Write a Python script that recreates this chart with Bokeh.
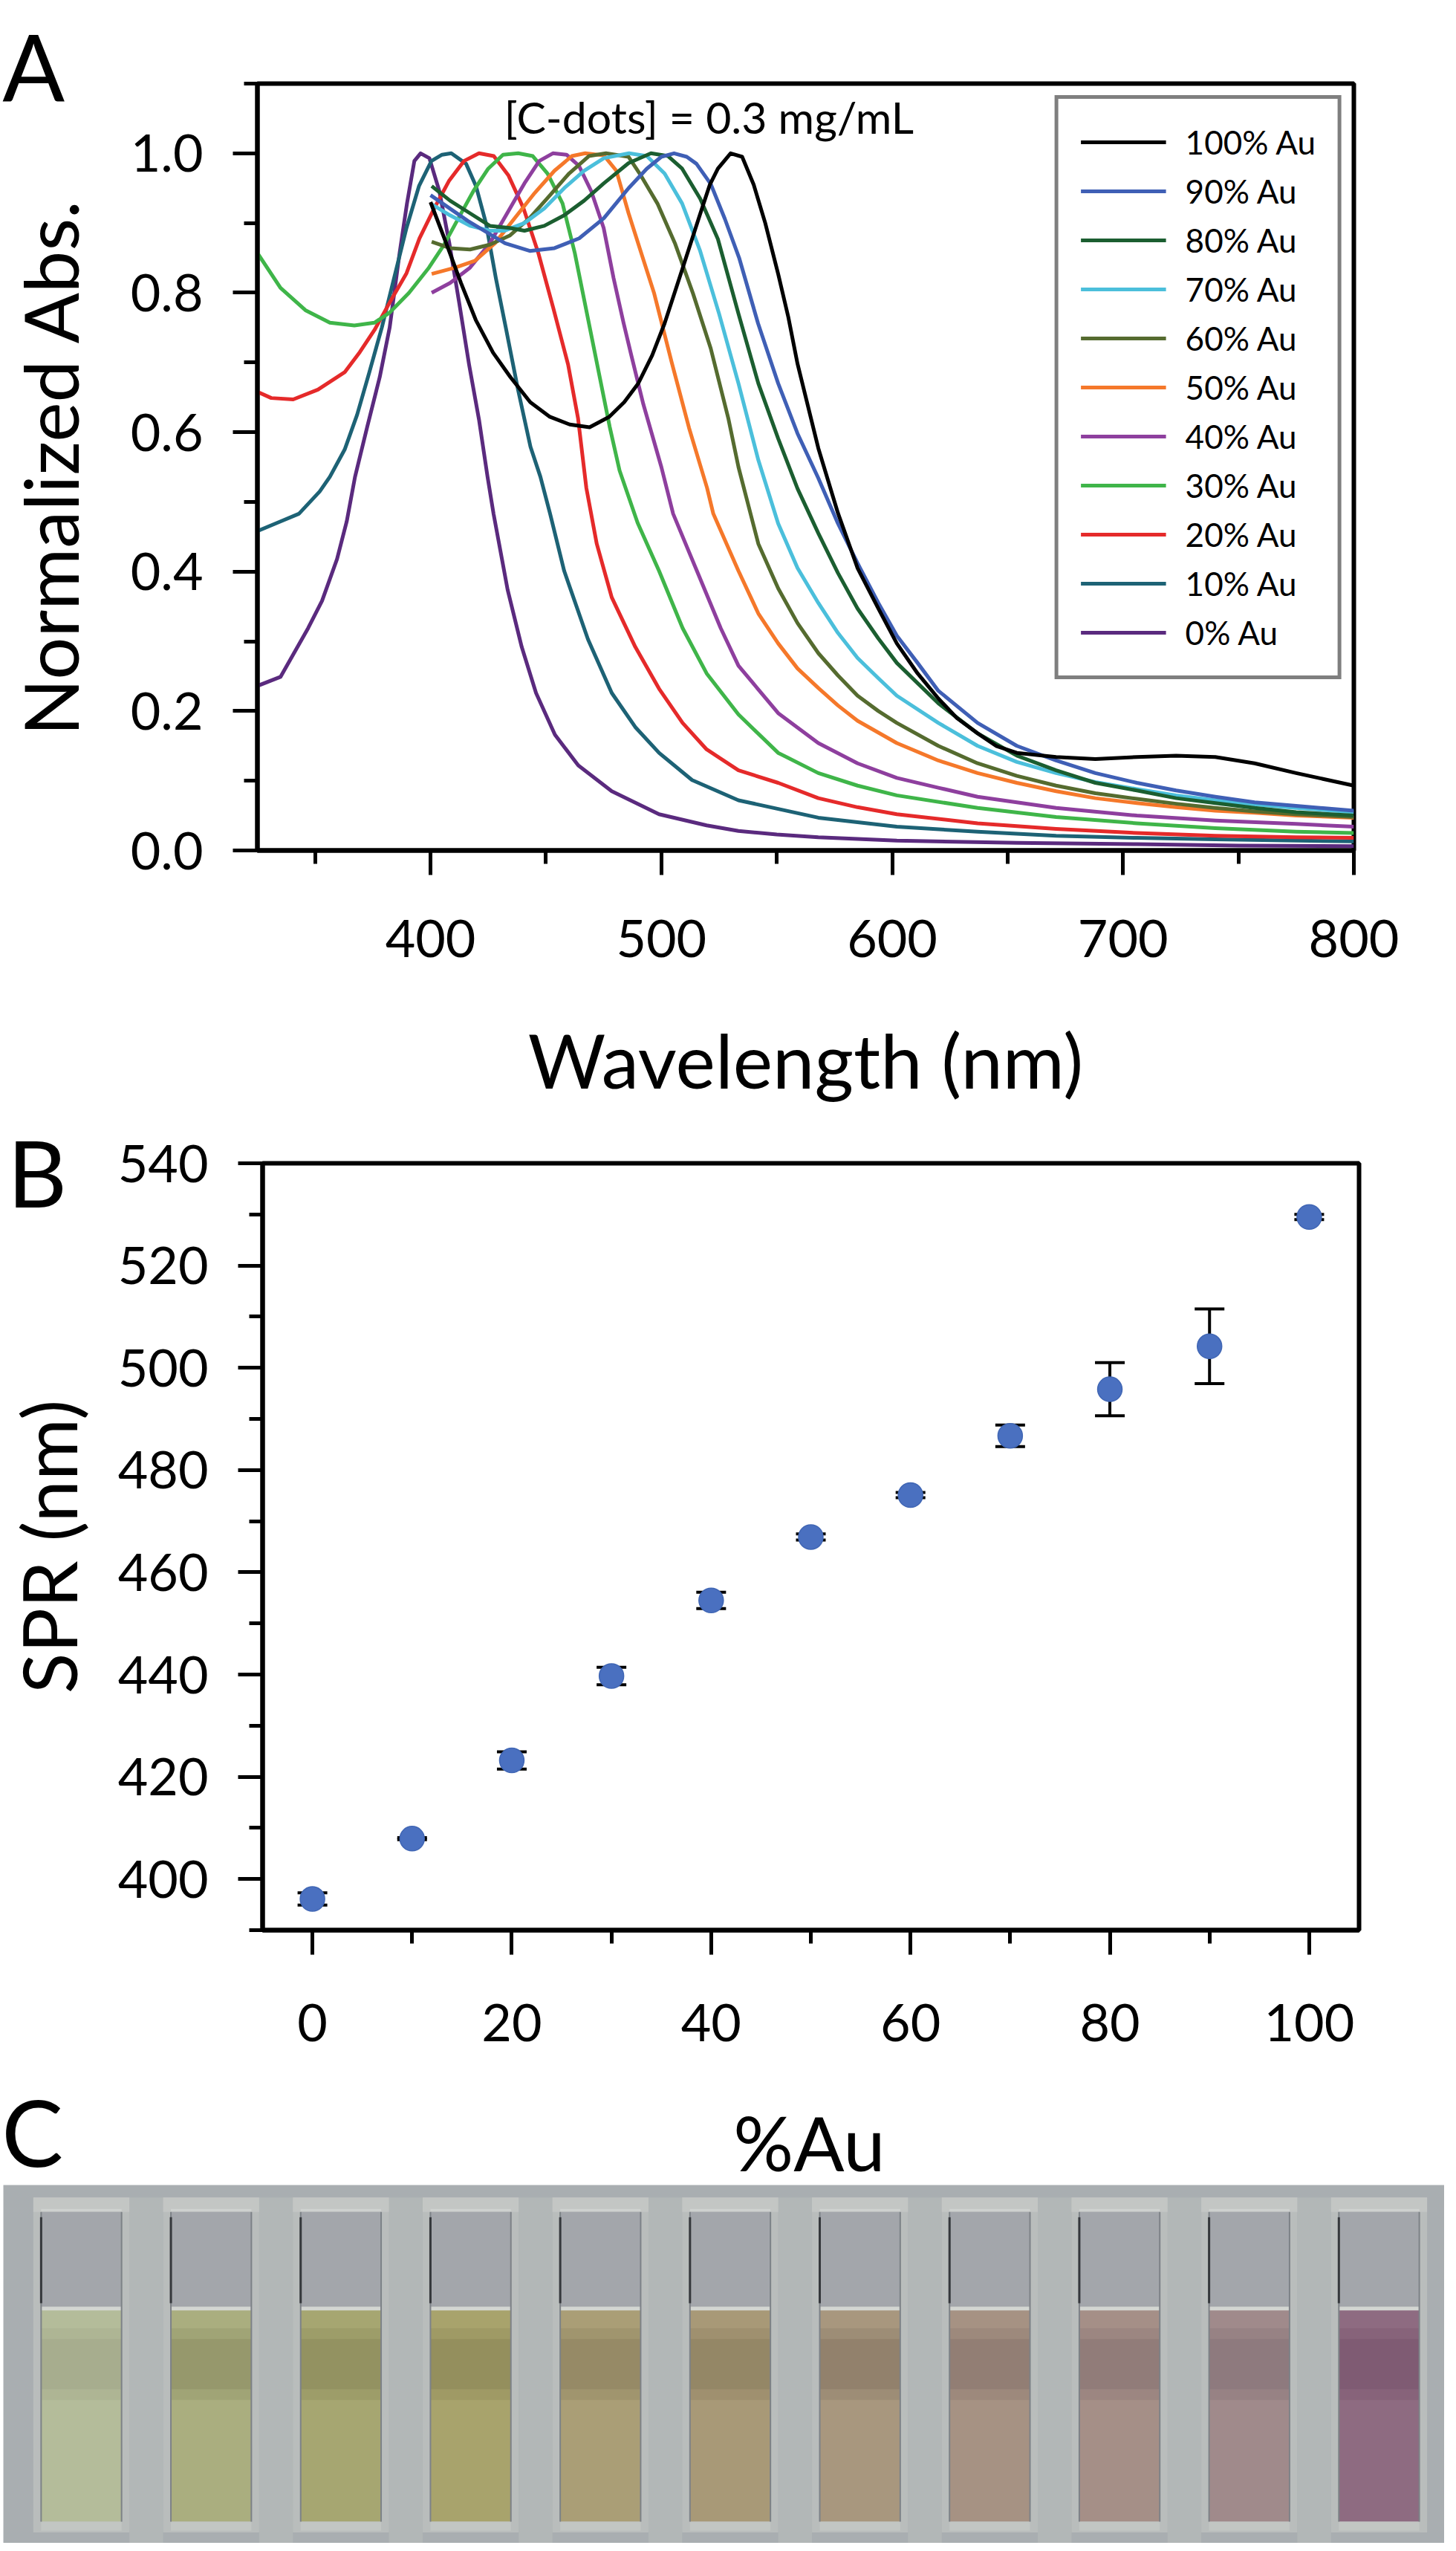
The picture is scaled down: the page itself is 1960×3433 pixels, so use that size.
from bokeh.plotting import figure
from bokeh.models import (Range1d, FixedTicker, PrintfTickFormatter, Legend,
                          LegendItem, Label, ColumnDataSource)
from bokeh.layouts import column
from bokeh.embed import file_html
from bokeh.resources import INLINE
from bokeh.core.properties import value

FONT = "Lato"

# ---------------- Panel A: normalized absorbance spectra (wavelength nm, normalized abs.)
au100 = [(400, 0.93), (406.8, 0.871), (413.2, 0.814), (419.6, 0.761), (427.1, 0.714), (434.6, 0.679),
         (443.2, 0.643), (451.7, 0.622), (460.3, 0.611), (468.9, 0.607), (477.4, 0.622), (483.9, 0.643),
         (490, 0.67), (496, 0.71), (501.4, 0.756), (509.1, 0.834), (516.8, 0.913), (521, 0.955),
         (524.5, 0.978), (530, 1.0), (535, 0.995), (540, 0.955), (545, 0.9), (550.6, 0.827),
         (555, 0.765), (559, 0.698), (568, 0.577), (576.5, 0.484), (585, 0.405), (594, 0.347),
         (602, 0.297), (611, 0.254), (620, 0.218), (628, 0.19), (637, 0.168), (645, 0.15),
         (654, 0.14), (671, 0.134), (688, 0.131), (706, 0.134), (723, 0.136), (740, 0.134),
         (757, 0.125), (775, 0.111), (800, 0.093)]
au90 = [(400, 0.94), (416.2, 0.903), (432.3, 0.871), (443, 0.86), (453.7, 0.864), (464.4, 0.878),
        (475.1, 0.907), (485.8, 0.95), (493.7, 0.978), (500, 0.995), (505.5, 1.0), (511, 0.995),
        (515.2, 0.985), (521.4, 0.956), (527.5, 0.906), (533.7, 0.85), (541.9, 0.756), (550.6, 0.67),
        (559, 0.598), (568, 0.534), (576.5, 0.469), (585, 0.412), (594, 0.355), (602, 0.308),
        (611, 0.269), (620, 0.229), (637, 0.183), (654, 0.15), (671, 0.129), (688, 0.111),
        (706, 0.097), (723, 0.086), (740, 0.077), (757, 0.069), (775, 0.064), (800, 0.057)]
au80 = [(400.5, 0.953), (408.5, 0.932), (417.1, 0.914), (425.7, 0.896), (434.3, 0.893), (440.7, 0.889),
        (449.3, 0.896), (457.9, 0.911), (466.5, 0.932), (475.1, 0.957), (485.8, 0.986), (495.5, 1.0),
        (502.9, 0.996), (509, 0.978), (516.8, 0.935), (524.5, 0.877), (533.4, 0.77), (542, 0.67),
        (550.6, 0.591), (559, 0.519), (568, 0.455), (576.5, 0.398), (585, 0.347), (594, 0.304),
        (602, 0.269), (611, 0.24), (620, 0.211), (637, 0.168), (654, 0.136), (671, 0.115),
        (688, 0.097), (706, 0.086), (723, 0.075), (740, 0.068), (757, 0.061), (775, 0.055), (800, 0.05)]
au70 = [(400.5, 0.927), (408.5, 0.911), (417.1, 0.896), (425.7, 0.889), (432.1, 0.889), (440.7, 0.9),
        (449.3, 0.921), (457.9, 0.95), (466.5, 0.975), (475.1, 0.993), (486, 1.0), (493.7, 0.996),
        (501.4, 0.971), (509, 0.928), (516.8, 0.86), (525, 0.77), (533.4, 0.67), (542, 0.56),
        (550.6, 0.469), (559, 0.405), (568, 0.355), (576.5, 0.312), (585, 0.276), (594, 0.247),
        (602, 0.222), (620, 0.183), (637, 0.15), (654, 0.127), (671, 0.111), (688, 0.098),
        (706, 0.088), (723, 0.079), (740, 0.072), (757, 0.066), (775, 0.061), (800, 0.055)]
au60 = [(400.5, 0.873), (408.5, 0.864), (417.1, 0.862), (425.7, 0.869), (434.3, 0.882), (442.9, 0.907),
        (451.5, 0.939), (460, 0.971), (468.6, 0.996), (476, 1.0), (485.8, 0.995), (490.6, 0.971),
        (498.3, 0.928), (506, 0.87), (513.7, 0.799), (521.4, 0.72), (529, 0.62), (533.4, 0.55),
        (542, 0.44), (550.6, 0.376), (559, 0.326), (568, 0.283), (576.5, 0.251), (585, 0.222),
        (594, 0.2), (602, 0.183), (620, 0.15), (637, 0.125), (654, 0.107), (671, 0.093),
        (688, 0.082), (706, 0.074), (723, 0.067), (740, 0.061), (757, 0.056), (775, 0.052), (800, 0.048)]
au50 = [(400.5, 0.827), (410.7, 0.836), (419.3, 0.846), (427.9, 0.871), (436.5, 0.907), (445.1, 0.943),
        (453.7, 0.975), (461.2, 0.996), (467, 1.0), (475.1, 0.997), (480.5, 0.975), (485.8, 0.914),
        (491, 0.86), (496.8, 0.8), (504.5, 0.7), (512, 0.606), (519.8, 0.52), (522.5, 0.483),
        (533.4, 0.401), (542, 0.34), (550.6, 0.297), (559, 0.261), (568, 0.233), (576.5, 0.208),
        (585, 0.186), (602, 0.154), (620, 0.129), (637, 0.111), (654, 0.097), (671, 0.085),
        (688, 0.075), (706, 0.068), (723, 0.062), (740, 0.057), (757, 0.054), (775, 0.05), (800, 0.047)]
au40 = [(400.5, 0.8), (408.5, 0.814), (417.1, 0.836), (425.7, 0.871), (433.2, 0.914), (440.7, 0.957),
        (447.1, 0.989), (453, 1.0), (458.9, 0.998), (464.3, 0.982), (469.6, 0.946), (475, 0.893),
        (479.3, 0.821), (483.6, 0.757), (487, 0.71), (492.2, 0.64), (500, 0.55), (505.1, 0.483),
        (515.4, 0.401), (525.7, 0.319), (533.4, 0.265), (550.6, 0.197), (568, 0.154), (585, 0.125),
        (602, 0.104), (620, 0.09), (637, 0.077), (671, 0.061), (706, 0.05), (740, 0.043),
        (775, 0.038), (800, 0.034)]
au30 = [(325, 0.857), (335, 0.807), (345.8, 0.775), (356.4, 0.757), (367, 0.753), (375.7, 0.757),
        (382.1, 0.771), (390.7, 0.8), (399.3, 0.836), (405.7, 0.868), (412.1, 0.907), (418.6, 0.946),
        (425, 0.978), (431.4, 0.998), (438, 1.0), (444.3, 0.996), (450.7, 0.971), (457.2, 0.928),
        (462.5, 0.857), (467.9, 0.768), (473.3, 0.679), (477.6, 0.608), (481.9, 0.545), (489.7, 0.47),
        (499, 0.401), (509.2, 0.319), (519.6, 0.254), (533.4, 0.195), (550.6, 0.14), (568, 0.111),
        (585, 0.093), (602, 0.079), (637, 0.061), (671, 0.048), (706, 0.039), (740, 0.032),
        (775, 0.027), (800, 0.025)]
au20 = [(325, 0.658), (331, 0.649), (340.5, 0.647), (351.2, 0.661), (362.8, 0.686), (369.4, 0.715),
        (375.8, 0.747), (382.3, 0.786), (389.6, 0.828), (395.2, 0.878), (401.6, 0.921), (408.1, 0.961),
        (414.5, 0.989), (421, 1.0), (427.4, 0.996), (433.8, 0.968), (440.3, 0.921), (446.7, 0.857),
        (453.1, 0.779), (459.6, 0.697), (463.9, 0.62), (467.5, 0.52), (472, 0.44), (478.5, 0.363),
        (488.7, 0.292), (499, 0.232), (509.2, 0.183), (519.6, 0.145), (533.4, 0.115), (550.6, 0.097),
        (568, 0.075), (585, 0.062), (602, 0.052), (637, 0.039), (671, 0.031), (706, 0.025),
        (740, 0.021), (775, 0.019), (800, 0.018)]
au10 = [(325, 0.458), (335, 0.472), (343, 0.483), (352, 0.515), (356.4, 0.536), (362.8, 0.575),
        (368.2, 0.625), (373.5, 0.686), (378.9, 0.75), (384.2, 0.821), (389.6, 0.893), (395, 0.953),
        (400.4, 0.989), (405, 0.998), (409, 1.0), (415.4, 0.985), (419.7, 0.953), (424, 0.9),
        (428.3, 0.821), (432.6, 0.75), (437.9, 0.661), (443.3, 0.579), (447.6, 0.536), (451.8, 0.483),
        (457.9, 0.401), (468.2, 0.303), (478.5, 0.226), (488.7, 0.177), (499, 0.14), (513.3, 0.101),
        (533.4, 0.072), (568, 0.047), (602, 0.034), (637, 0.027), (671, 0.021), (706, 0.018),
        (740, 0.016), (800, 0.013)]
au0 = [(325, 0.236), (335, 0.249), (347, 0.319), (353, 0.358), (359.5, 0.418), (363.7, 0.472),
       (367.3, 0.536), (372.6, 0.608), (378, 0.679), (382.3, 0.75), (386.6, 0.857), (389.8, 0.928),
       (393, 0.989), (395.7, 1.0), (399.5, 0.993), (403.8, 0.946), (408.1, 0.872), (412.4, 0.786),
       (416.7, 0.697), (421, 0.618), (424.7, 0.536), (427.3, 0.483), (433.4, 0.374), (439.5, 0.292),
       (445.7, 0.226), (453.9, 0.166), (464, 0.122), (478.5, 0.085), (499, 0.052), (519.6, 0.036),
       (533.4, 0.028), (550, 0.023), (568, 0.019), (602, 0.014), (654, 0.011), (706, 0.009),
       (750, 0.007), (800, 0.006)]

spectra = [au100, au90, au80, au70, au60, au50, au40, au30, au20, au10, au0]
spectra_labels = ["100% Au", "90% Au", "80% Au", "70% Au", "60% Au", "50% Au",
                  "40% Au", "30% Au", "20% Au", "10% Au", "0% Au"]
spectra_colors = ["#000000", "#3f5fb5", "#1b5e30", "#4bbfdb", "#556b2f", "#f5782a",
                  "#8e3f9e", "#3fb549", "#e52a2a", "#1d6275", "#5a2a7e"]

wl_ticks = [400, 500, 600, 700, 800]
wl_minor = [350, 450, 550, 650, 750]
abs_ticks = [0.0, 0.2, 0.4, 0.6, 0.8, 1.0]
abs_minor = [0.1, 0.3, 0.5, 0.7, 0.9, 1.1]

# ---------------- Panel B: SPR position vs. %Au
au_pct = [0, 10, 20, 30, 40, 50, 60, 70, 80, 90, 100]
spr_nm = [396.1, 407.9, 423.2, 439.7, 454.5, 466.9, 475.1, 486.7, 495.8, 504.2, 529.5]
spr_err = [1.2, 0.2, 1.7, 1.7, 1.6, 0.6, 0.5, 2.1, 5.2, 7.3, 0.5]
pct_ticks = [0, 20, 40, 60, 80, 100]
pct_minor = [10, 30, 50, 70, 90]
spr_ticks = [400, 420, 440, 460, 480, 500, 520, 540]
spr_minor = [390, 410, 430, 450, 470, 490, 510, 530]

# ---------------- Panel C: photo of the cuvettes (one per %Au)
cuvette_pct = au_pct
liquid_colors = ["#b4bc9a", "#aaae7f", "#a6a671", "#a8a36c", "#aa9e76", "#a89977",
                 "#a8977e", "#a69283", "#a58f87", "#a08a8b", "#8e6b81"]
band_colors = ["#a2a88a", "#8f9166", "#8c8b5b", "#8e8958", "#8f8360", "#8e8260",
               "#8a7a66", "#8b7770", "#8b7675", "#887479", "#7a566e"]


def no_align(p):
    if "frame_align" in p.properties():
        p.frame_align = False


def style_axes(p):
    p.outline_line_color = "black"
    p.outline_line_width = 6
    p.grid.visible = False
    p.background_fill_color = "white"
    p.border_fill_color = "white"
    for ax in p.axis:
        ax.axis_line_width = 6
        ax.axis_line_color = "black"
        ax.major_tick_line_width = 5
        ax.minor_tick_line_width = 5
        ax.major_tick_line_color = "black"
        ax.minor_tick_line_color = "black"
        ax.major_tick_in = 0
        ax.major_tick_out = 33
        ax.minor_tick_in = 0
        ax.minor_tick_out = 18
        ax.major_label_text_font = FONT
        ax.major_label_text_font_size = "70px"
        ax.major_label_text_color = "black"
        ax.axis_label_text_font = FONT
        ax.axis_label_text_font_size = "101px"
        ax.axis_label_text_font_style = "normal"
        ax.axis_label_text_color = "black"


# ================= Figure A
pA = figure(frame_width=1476, frame_height=1032,
            min_border_left=346, min_border_right=122, min_border_top=112, min_border_bottom=340,
            x_range=Range1d(325, 800), y_range=Range1d(0, 1.1),
            output_backend="svg", toolbar_location=None)
no_align(pA)
style_axes(pA)
pA.xaxis.ticker = FixedTicker(ticks=wl_ticks, minor_ticks=wl_minor)
pA.yaxis.ticker = FixedTicker(ticks=abs_ticks, minor_ticks=abs_minor)
pA.yaxis.formatter = PrintfTickFormatter(format="%.1f")
pA.xaxis.axis_label = "Wavelength (nm)"
pA.yaxis.axis_label = "Normalized Abs."
pA.xaxis.major_label_standoff = 60
pA.yaxis.major_label_standoff = 40
pA.xaxis.axis_label_standoff = 74
pA.yaxis.axis_label_standoff = 45

renderers = {}
for pts, lab, col in reversed(list(zip(spectra, spectra_labels, spectra_colors))):
    xs = [a for a, b in pts]
    ys = [b for a, b in pts]
    renderers[lab] = pA.line(xs, ys, line_width=5, line_color=col, line_join="round")

legend = Legend(items=[LegendItem(label=lab, renderers=[renderers[lab]]) for lab in spectra_labels],
                location="top_right")
legend.margin = 16
legend.padding = 30
legend.spacing = 10
legend.glyph_width = 115
legend.glyph_height = 56
legend.label_height = 56
legend.label_standoff = 26
legend.label_text_font = FONT
legend.label_text_font_size = "44px"
legend.label_text_color = "black"
legend.border_line_color = "black"
legend.border_line_width = 5
legend.background_fill_color = "white"
legend.background_fill_alpha = 1.0
pA.add_layout(legend)

pA.add_layout(Label(x=520.66, y=1.052, text="[C-dots] = 0.3 mg/mL", text_align="center",
                    text_baseline="alphabetic", text_font=FONT, text_font_size="59px",
                    text_color="black"))
# panel letter A (side panel, so it is not clipped to the frame)
pA.add_layout(Label(x=214.5, y=1.1256, text="A", text_align="left", text_baseline="alphabetic",
                    text_font=FONT, text_font_size="124px", text_color="black"), "right")

# ================= Figure B
pB = figure(frame_width=1476, frame_height=1032,
            min_border_left=352, min_border_right=116, min_border_top=76, min_border_bottom=175,
            x_range=Range1d(-5, 105), y_range=Range1d(390, 540),
            output_backend="svg", toolbar_location=None)
no_align(pB)
style_axes(pB)
pB.xaxis.ticker = FixedTicker(ticks=pct_ticks, minor_ticks=pct_minor)
pB.yaxis.ticker = FixedTicker(ticks=spr_ticks, minor_ticks=spr_minor)
pB.yaxis.axis_label = "SPR (nm)"
pB.xaxis.major_label_standoff = 66
pB.yaxis.major_label_standoff = 40
pB.yaxis.axis_label_standoff = 30

srcB = ColumnDataSource(dict(
    x=au_pct, y=spr_nm,
    lo=[v - e for v, e in zip(spr_nm, spr_err)],
    hi=[v + e for v, e in zip(spr_nm, spr_err)],
))
pB.segment(x0="x", y0="lo", x1="x", y1="hi", source=srcB, line_width=4, line_color="black")
pB.scatter(x="x", y="lo", source=srcB, marker="dash", size=40, line_width=4, line_color="black")
pB.scatter(x="x", y="hi", source=srcB, marker="dash", size=40, line_width=4, line_color="black")
pB.scatter(x="x", y="y", source=srcB, marker="circle", size=33, fill_color="#4a70c0",
           line_color="#4066b4", line_width=1.5)

# panel letter B (side panel, so it is not clipped to the frame)
pB.add_layout(Label(x=-30.6, y=538.4, text="B", text_align="left", text_baseline="alphabetic",
                    text_font=FONT, text_font_size="124px", text_color="black"), "right")

# ================= Figure C: "%Au" heading, panel letter and photo of cuvettes drawn with quads
pC = figure(frame_width=1944, frame_height=650,
            min_border_left=0, min_border_right=0, min_border_top=0, min_border_bottom=0,
            x_range=Range1d(-0.624, 10.504), y_range=Range1d(0, 1.3485),
            x_axis_location=None, y_axis_location=None,
            output_backend="svg", toolbar_location=None)
no_align(pC)
pC.grid.visible = False
pC.outline_line_color = None
pC.background_fill_color = "white"
pC.border_fill_color = "white"

idx = list(range(len(cuvette_pct)))
srcC = ColumnDataSource(dict(
    c=idx,
    ol=[i - 0.37 for i in idx], orr=[i + 0.37 for i in idx],
    il=[i - 0.31 for i in idx], ir=[i + 0.31 for i in idx],
    liquid=liquid_colors, band=band_colors,
))
# photo background
pC.quad(left=[-0.601], right=[10.504], bottom=[0.0], top=[1.0], fill_color="#a9aeb1", line_color=None)
# holder ribs between cuvettes
pC.quad(left=[i + 0.37 for i in idx[:-1]], right=[i + 0.63 for i in idx[:-1]],
        bottom=0.0, top=0.965, fill_color="#b2b7b7", line_color=None)
# cuvette bodies
pC.quad(left="ol", right="orr", bottom=0.03, top=0.965, source=srcC,
        fill_color="#b9bdbc", line_color=None)
pC.quad(left="ol", right="orr", bottom=0.925, top=0.965, source=srcC,
        fill_color="#c3c6c4", line_color=None)
# air above liquid
pC.quad(left="il", right="ir", bottom=0.655, top=0.925, source=srcC,
        fill_color="#a3a6ab", line_color=None)
# liquid
pC.quad(left="il", right="ir", bottom=0.06, top=0.655, source=srcC,
        fill_color="liquid", line_color=None)
pC.quad(left="il", right="ir", bottom=0.40, top=0.60, source=srcC,
        fill_color="band", fill_alpha=0.35, line_color=None)
pC.quad(left="il", right="ir", bottom=0.43, top=0.57, source=srcC,
        fill_color="band", fill_alpha=0.6, line_color=None)
# base of cuvettes
pC.quad(left="il", right="ir", bottom=0.035, top=0.06, source=srcC,
        fill_color="#c2c6c3", line_color=None)
# meniscus and rims
pC.segment(x0="il", y0=0.655, x1="ir", y1=0.655, source=srcC, line_color="#d3d6d2", line_width=5)
pC.segment(x0="il", y0=0.93, x1="ir", y1=0.93, source=srcC, line_color="#cfd2d0", line_width=3)
# inner walls
pC.segment(x0="il", y0=0.06, x1="il", y1=0.925, source=srcC, line_color="#7d8287", line_width=2)
pC.segment(x0="ir", y0=0.06, x1="ir", y1=0.925, source=srcC, line_color="#7d8287", line_width=2)
pC.segment(x0="il", y0=0.67, x1="il", y1=0.91, source=srcC, line_color="#35383c", line_width=3)

# heading "%Au" (x-axis title of panel B, centred under B's frame) and panel letter C
pC.text(x=[5.6096], y=[1.1183], text=["%Au"], text_font=value(FONT), text_font_size=value("101px"),
        text_align="center", text_baseline="alphabetic", text_color="black")
pC.text(x=[-0.614], y=[1.1494], text=["C"], text_font=value(FONT), text_font_size=value("124px"),
        text_align="left", text_baseline="alphabetic", text_color="black")

layout = column(pA, pB, pC, spacing=0)
open("out.html", "w").write(file_html(layout, INLINE))
